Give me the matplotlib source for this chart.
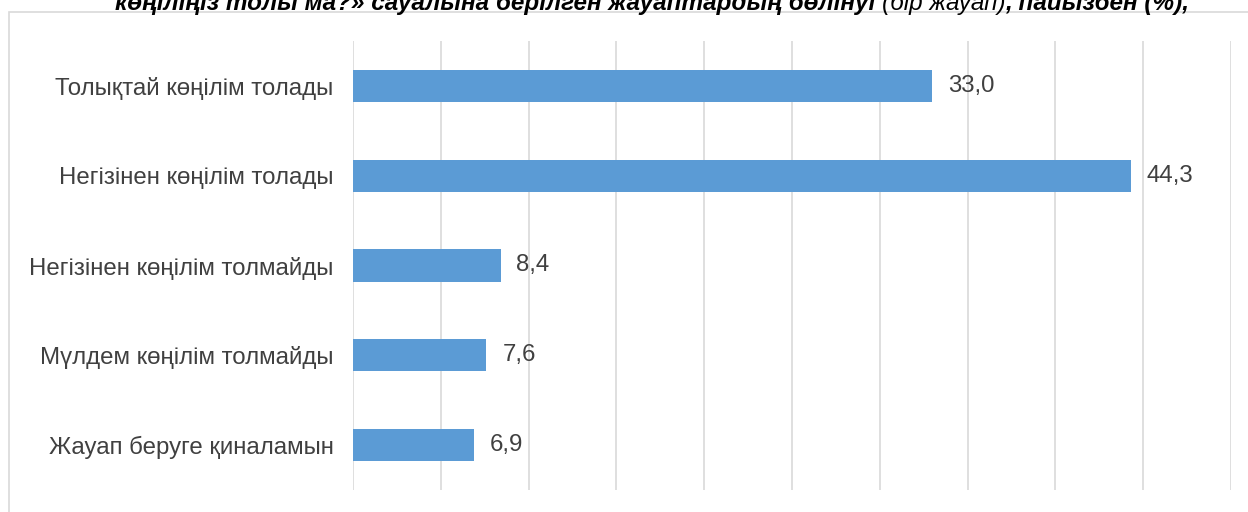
import matplotlib.pyplot as plt
from matplotlib.patches import Rectangle

plt.rcParams['font.family'] = ['Liberation Sans', 'DejaVu Sans']

categories = ['Толықтай көңілім толады', 'Негізінен көңілім толады', 'Негізінен көңілім толмайды',
              'Мүлдем көңілім толмайды', 'Жауап беруге қиналамын']
values = [33.0, 44.3, 8.4, 7.6, 6.9]
value_labels = ['33,0', '44,3', '8,4', '7,6', '6,9']

title_parts = [
    ('көңіліңіз толы ма?» сауалына берілген жауаптардың бөлінуі ', 'bold'),
    ('(бір жауап)', 'normal'),
    (', пайызбен (%),', 'bold'),
]

fig = plt.figure(figsize=(12.48, 5.12), dpi=100)

# outer frame: only top and left edges fall inside the picture
fig.patches.append(Rectangle((9 / 1248, -0.05), 1.0, 1 - 12 / 512 + 0.05,
                             transform=fig.transFigure, fill=False, edgecolor='#D9D9D9',
                             linewidth=1.2, zorder=0))

ax = fig.add_axes([353 / 1248, 1 - 490 / 512, (1231 - 353) / 1248, 449 / 512])
y = list(range(len(categories)))
ax.barh(y, values, height=0.36, color='#5B9BD5', zorder=2)
for yi, v, lab in zip(y, values, value_labels):
    ax.text(v + 0.9, yi, lab, va='center', ha='left', fontsize=17.3, color='#404040')

ax.set_xlim(0, 50)
ax.set_ylim(4.5, -0.5)
ax.set_xticks(range(0, 51, 5))
ax.set_xticklabels([])
ax.set_yticks(y)
ax.set_yticklabels(categories, fontsize=17.3, color='#404040')
ax.tick_params(axis='y', length=0, pad=14)
ax.tick_params(axis='x', length=0)
ax.grid(axis='x', color='#D9D9D9', linewidth=1.2, zorder=0)
for s in ax.spines.values():
    s.set_visible(False)

# title, cut off at the top of the picture
fig.canvas.draw()
renderer = fig.canvas.get_renderer()
x0 = 115 / 1248
for txt, w in title_parts:
    t = fig.text(x0, 1 - 10 / 512, txt, fontsize=17.5, fontweight=w, fontstyle='italic',
                 color='black', va='baseline', ha='left')
    bb = t.get_window_extent(renderer=renderer)
    x0 = bb.x1 / fig.bbox.width

fig.savefig('out.png', dpi=100)
